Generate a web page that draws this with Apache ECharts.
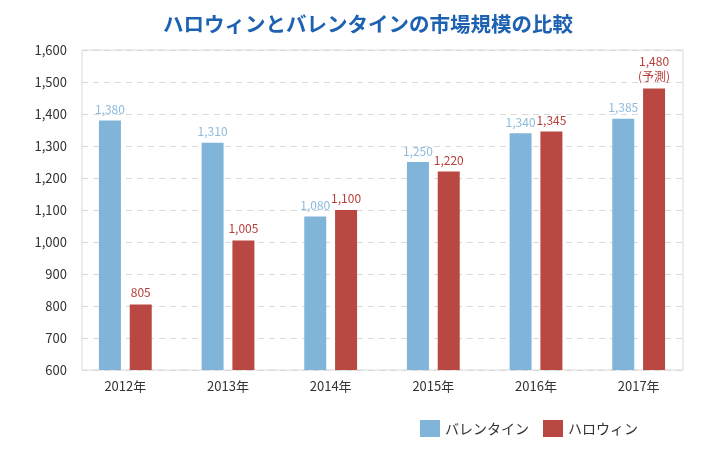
<!DOCTYPE html>
<html><head><meta charset="utf-8">
<script src="https://cdn.jsdelivr.net/npm/echarts@6/dist/echarts.min.js"></script>
<style>html,body{margin:0;padding:0;background:#fff}#c{width:710px;height:450px}</style>
</head><body><div id="c"></div>
<script>
const titleText = 'ハロウィンとバレンタインの市場規模の比較';
const categories = ['2012年','2013年','2014年','2015年','2016年','2017年'];
const seriesNames = ['バレンタイン','ハロウィン'];
const valentine = [1380, 1310, 1080, 1250, 1340, 1385];
const halloween = [805, 1005, 1100, 1220, 1345, 1480];
const halloweenNotes = ['', '', '', '', '', '(予測)'];
const yMin = 600, yMax = 1600, yStep = 100;

const FONT = '"Noto Sans CJK JP", "Noto Sans", sans-serif';
const fmt = v => Number(v).toLocaleString('en-US');
const chart = echarts.init(document.getElementById('c'));
chart.setOption({
  animation: false,
  textStyle: { fontFamily: FONT },
  title: {
    text: titleText, left: 363, textAlign: 'center', top: 9,
    textStyle: { fontSize: 20.5, fontWeight: 'bold', color: '#1d62b2', fontFamily: FONT }
  },
  legend: {
    data: seriesNames, left: 415, top: 415, itemWidth: 20, itemHeight: 17, itemGap: 14,
    icon: 'rect',
    textStyle: { fontSize: 14, color: '#333', fontFamily: FONT }
  },
  grid: [
    { left: 82, right: 27, top: 50, bottom: 80, show: true, borderColor: '#d9d9d9', borderWidth: 1 },
    { left: 74, right: 20, top: 50, bottom: 80 }
  ],
  xAxis: [
    { type: 'category', gridIndex: 0, data: categories, show: false },
    { type: 'category', gridIndex: 1, data: categories,
      axisLine: { show: false }, axisTick: { show: false },
      axisLabel: { fontSize: 13, color: '#333', margin: 10, fontFamily: FONT } }
  ],
  yAxis: [
    { type: 'value', gridIndex: 0, min: yMin, max: yMax, interval: yStep,
      axisLine: { show: false }, axisTick: { show: false },
      axisLabel: { formatter: fmt, fontSize: 13, color: '#333', margin: 15, fontFamily: FONT },
      splitLine: { lineStyle: { color: '#d9d9d9', type: [6, 5], width: 1 } } },
    { type: 'value', gridIndex: 1, min: yMin, max: yMax, interval: yStep, show: false,
      splitLine: { show: false } }
  ],
  series: [
    { name: seriesNames[0], type: 'bar', xAxisIndex: 1, yAxisIndex: 1, data: valentine,
      barWidth: 22, barGap: '40%',
      itemStyle: { color: '#80b5d9' },
      label: { show: true, position: 'top', distance: 5, formatter: p => fmt(p.value),
        color: '#8dbbdc', fontSize: 12, fontFamily: FONT } },
    { name: seriesNames[1], type: 'bar', xAxisIndex: 1, yAxisIndex: 1, data: halloween,
      barWidth: 22, barGap: '40%',
      itemStyle: { color: '#b94843' },
      label: { show: true, position: 'top', distance: 4,
        formatter: p => fmt(p.value) + (halloweenNotes[p.dataIndex] ? '\n' + halloweenNotes[p.dataIndex] : ''),
        color: '#b83d38', fontSize: 12, lineHeight: 15, fontFamily: FONT } }
  ]
});
</script></body></html>
